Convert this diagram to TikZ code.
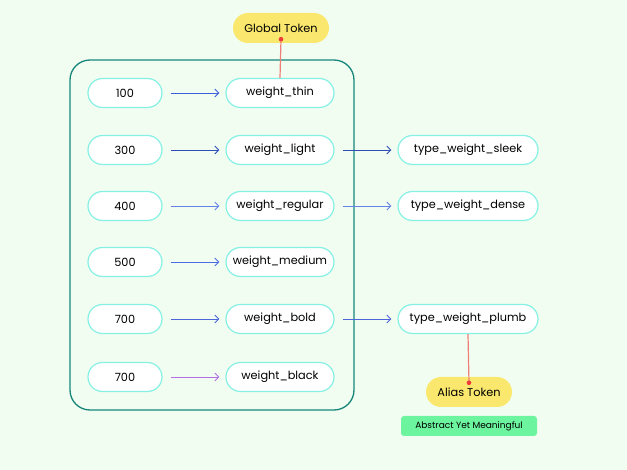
\documentclass[tikz,border=0pt]{standalone}
\usepackage{fontspec}
\setmainfont{Poppins}
\usetikzlibrary{arrows.meta}
\definecolor{bg}{HTML}{F2FDF1}
\definecolor{nodeborder}{HTML}{86F0E4}
\definecolor{frame}{HTML}{16877A}
\definecolor{tokyellow}{HTML}{FAE86E}
\definecolor{tokgreen}{HTML}{6CF59E}
\definecolor{tokred}{HTML}{F07E78}
\definecolor{dotred}{HTML}{EE3B3B}
\definecolor{arrA}{HTML}{3B5EDB}
\definecolor{arrB}{HTML}{2E4DB5}
\definecolor{arrC}{HTML}{6482E6}
\definecolor{arrD}{HTML}{4A6DE3}
\definecolor{arrE}{HTML}{4D66D9}
\definecolor{arrF}{HTML}{B46EE3}
\tikzset{
  pill/.style={draw=nodeborder, line width=1.2pt, fill=white, rounded corners=14.5pt,
    minimum height=29pt, inner sep=0pt, font=\fontsize{11.3}{13}\selectfont},
  valbox/.style={pill, minimum width=74pt},
  midbox/.style={pill, minimum width=108pt},
  rightbox/.style={pill, minimum width=140pt},
  yellowtok/.style={fill=tokyellow, rounded corners=15pt, minimum height=30pt, inner sep=0pt,
    font=\fontsize{11.3}{13}\selectfont},
  greentag/.style={fill=tokgreen, rounded corners=3pt, minimum width=136pt, minimum height=20pt,
    inner sep=0pt, font=\fontsize{9}{10}\selectfont},
  conn/.style={line width=0.9pt, -{Straight Barb[length=4pt,width=8pt]}},
  redlink/.style={tokred, line width=1.2pt},
}
\begin{document}
\begin{tikzpicture}[x=1pt,y=-1pt]
\fill[bg] (0,0) rectangle (627,470);
\useasboundingbox (0,0) rectangle (627,470);
\draw[frame, line width=1.3pt, rounded corners=20pt] (70,60) rectangle (354,410);

\node[valbox] (v100) at (125,93) {100};
\node[valbox] (v300) at (125,150) {300};
\node[valbox] (v400) at (125,206) {400};
\node[valbox] (v500) at (125,262) {500};
\node[valbox] (v700a) at (125,319) {700};
\node[valbox] (v700b) at (125,377) {700};

\node[midbox] (thin) at (280,93) {weight\_thin};
\node[midbox] (light) at (280,150) {weight\_light};
\node[midbox] (regular) at (280,206) {weight\_regular};
\node[midbox] (medium) at (280,262) {weight\_medium};
\node[midbox] (bold) at (280,319) {weight\_bold};
\node[midbox] (black) at (280,377) {weight\_black};

\node[rightbox] (sleek) at (468,150) {type\_weight\_sleek};
\node[rightbox] (dense) at (468,206) {type\_weight\_dense};
\node[rightbox] (plumb) at (468,319) {type\_weight\_plumb};

\node[yellowtok, minimum width=96pt] (global) at (281,28) {Global Token};
\node[yellowtok, minimum width=86pt] (alias) at (469,392) {Alias Token};
\node[greentag] (abstract) at (469,426) {Abstract Yet Meaningful};

\draw[conn, arrA] ([xshift=8pt]v100.east) -- ([xshift=-6pt]thin.west);
\draw[conn, arrB] ([xshift=8pt]v300.east) -- ([xshift=-6pt]light.west);
\draw[conn, arrC] ([xshift=8pt]v400.east) -- ([xshift=-6pt]regular.west);
\draw[conn, arrD] ([xshift=8pt]v500.east) -- ([xshift=-6pt]medium.west);
\draw[conn, arrE] ([xshift=8pt]v700a.east) -- ([xshift=-6pt]bold.west);
\draw[conn, arrF] ([xshift=8pt]v700b.east) -- ([xshift=-6pt]black.west);

\draw[conn, arrB] ([xshift=8pt]light.east) -- ([xshift=-6pt]sleek.west);
\draw[conn, arrC] ([xshift=8pt]regular.east) -- ([xshift=-6pt]dense.west);
\draw[conn, arrE] ([xshift=8pt]bold.east) -- ([xshift=-6pt]plumb.west);

\coordinate (gdot) at ([yshift=4pt]global.south);
\coordinate (adot) at ([yshift=-6pt]alias.north);
\draw[redlink] (gdot) -- (thin.north);
\draw[redlink] (plumb.south) -- (adot);
\fill[dotred] (gdot) circle (2.3pt);
\fill[dotred] (adot) circle (2.3pt);
\end{tikzpicture}
\end{document}
